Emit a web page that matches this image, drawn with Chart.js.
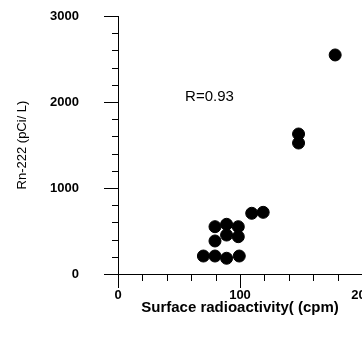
<!DOCTYPE html>
<html lang="en">

<head>
    <meta charset="UTF-8">
    <title>Rn-222 vs Surface radioactivity</title>
    <script src="https://cdn.jsdelivr.net/npm/chart.js"></script>
    <style>
        body { margin: 0; background: #fff; }
        #wrap { width: 362px; height: 340px; }
    </style>
</head>

<body>
    <div id="wrap"><canvas id="rn-chart" width="362" height="340"></canvas></div>

    <script>
        // values
        var surfaceCpm = [79.5, 89, 98.6, 89, 98.6, 79.5, 70, 79.5, 89, 99.4, 109.6, 119, 148, 148, 178];
        var rn222 = [550, 578, 550, 453, 434, 384, 209, 209, 183, 209, 706, 717, 1628, 1523, 2547];
        var xTickLabels = [0, 100, 200];
        var yTickLabels = [0, 1000, 2000, 3000];
        var rLabel = 'R=0.93';

        var points = surfaceCpm.map(function (x, i) { return { x: x, y: rn222[i] }; });
        var font = 'Liberation Sans, Arial, sans-serif';

        Chart.defaults.color = '#000';
        Chart.defaults.font.family = font;

        // short ticks between the labelled ones + the R value
        var extras = {
            id: 'extras',
            afterDraw: function (chart) {
                var ctx = chart.ctx;
                var xs = chart.scales.x, ys = chart.scales.y;
                ctx.save();
                ctx.strokeStyle = '#000';
                ctx.lineWidth = 1;
                ctx.beginPath();
                xs.ticks.forEach(function (t) {
                    if (xTickLabels.indexOf(t.value) >= 0) return;
                    var px = Math.round(xs.getPixelForValue(t.value)) + 0.5;
                    ctx.moveTo(px, xs.top);
                    ctx.lineTo(px, xs.top + 7);
                });
                ys.ticks.forEach(function (t) {
                    if (yTickLabels.indexOf(t.value) >= 0) return;
                    var py = Math.round(ys.getPixelForValue(t.value)) + 0.5;
                    ctx.moveTo(ys.right, py);
                    ctx.lineTo(ys.right - 6, py);
                });
                ctx.stroke();

                ctx.fillStyle = '#000';
                ctx.font = '15px ' + font;
                ctx.textAlign = 'left';
                ctx.textBaseline = 'middle';
                ctx.fillText(rLabel, xs.getPixelForValue(55), ys.getPixelForValue(2058));
                ctx.restore();
            }
        };

        function majorOnly(list) {
            return function (ctx) {
                return list.indexOf(ctx.tick.value) >= 0 ? '#000' : 'rgba(0,0,0,0)';
            };
        }

        new Chart(document.getElementById('rn-chart').getContext('2d'), {
            type: 'scatter',
            data: {
                datasets: [{
                    data: points,
                    backgroundColor: '#000',
                    borderColor: '#000',
                    pointRadius: 6,
                    pointHoverRadius: 6
                }]
            },
            plugins: [extras],
            options: {
                responsive: false,
                animation: false,
                layout: { autoPadding: false, padding: { top: 16, right: 0, left: 0, bottom: 0 } },
                plugins: {
                    legend: { display: false },
                    tooltip: { enabled: false }
                },
                scales: {
                    x: {
                        type: 'linear',
                        min: 0,
                        max: 200,
                        grid: {
                            drawOnChartArea: false,
                            tickLength: 14,
                            tickColor: majorOnly(xTickLabels)
                        },
                        border: { color: '#000', width: 1 },
                        ticks: {
                            stepSize: 20,
                            padding: 0,
                            maxRotation: 0,
                            autoSkip: false,
                            font: { size: 13, weight: 'bold' },
                            callback: function (v) { return xTickLabels.indexOf(v) >= 0 ? v : ''; }
                        },
                        title: {
                            display: true,
                            text: 'Surface radioactivity( (cpm)',
                            font: { size: 15, weight: 'bold' },
                            padding: { top: 0, bottom: 23 }
                        },
                        afterFit: function (s) { s.height = 66; s.paddingLeft = 0; s.paddingRight = 0; }
                    },
                    y: {
                        type: 'linear',
                        min: 0,
                        max: 3000,
                        grid: {
                            drawOnChartArea: false,
                            tickLength: 14,
                            tickColor: majorOnly(yTickLabels)
                        },
                        border: { color: '#000', width: 1 },
                        ticks: {
                            stepSize: 200,
                            padding: 25,
                            autoSkip: false,
                            font: { size: 13, weight: 'bold' },
                            callback: function (v) { return yTickLabels.indexOf(v) >= 0 ? v : ''; }
                        },
                        title: {
                            display: true,
                            text: 'Rn-222 (pCi/ L)',
                            font: { size: 13 },
                            padding: { top: 15, bottom: 0 }
                        },
                        afterFit: function (s) { s.width = 118; s.paddingTop = 0; s.paddingBottom = 0; }
                    }
                }
            }
        });
    </script>
</body>

</html>
